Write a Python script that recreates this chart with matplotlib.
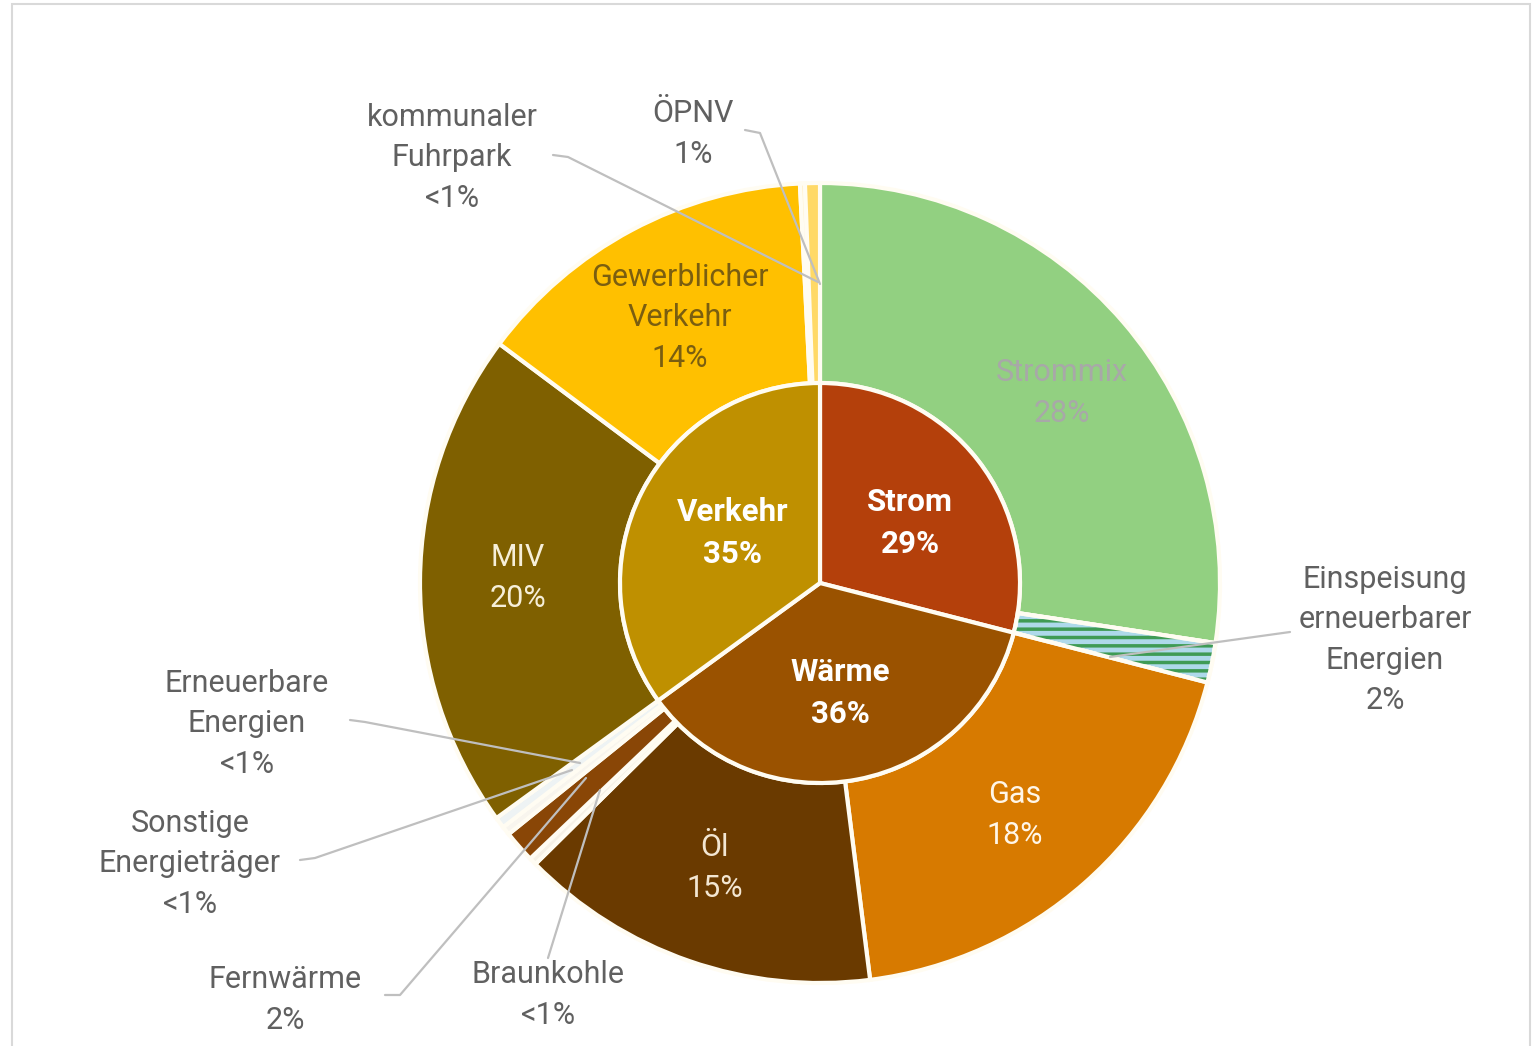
import matplotlib.pyplot as plt
from matplotlib.patches import Rectangle, Wedge

W, H = 1535, 1046

inner_labels = ["Strom", "Wärme", "Verkehr"]
inner_values = [29, 36, 35]
inner_text = ["29%", "36%", "35%"]
inner_colors = ["#B4400B", "#9A5200", "#BF9000"]

outer_labels = ["Strommix", "Einspeisung erneuerbarer Energien",
                "Gas", "Öl", "Braunkohle", "Fernwärme",
                "Sonstige Energieträger", "Erneuerbare Energien",
                "MIV", "Gewerblicher Verkehr", "kommunaler Fuhrpark", "ÖPNV"]
outer_values = [27.4, 1.6,
                19.0, 14.6, 0.3, 1.3, 0.35, 0.45,
                20.2, 14.0, 0.2, 0.6]
outer_text = ["28%", "2%", "18%", "15%", "<1%", "2%", "<1%", "<1%",
              "20%", "14%", "<1%", "1%"]
outer_colors = ["#92D081", "#AED9EA",
                "#D77A00", "#6A3A00", "#F6F1E6", "#894606", "#F8F5EE", "#EEF3F4",
                "#7F6000", "#FFC000", "#FFF1CC", "#FFD966"]

EDGE = "#FFFCF2"
CX, CY, R = 820, 583, 400


def py(y):
    return H - y


plt.rcParams['font.family'] = ['Roboto', 'DejaVu Sans']
fig = plt.figure(figsize=(W / 100, H / 100), dpi=100)
ax = fig.add_axes([0, 0, 1, 1])
ax.set_xlim(0, W)
ax.set_ylim(0, H)
ax.set_aspect('equal')
ax.axis('off')

# thin frame round the picture
fig.patches.append(Rectangle((12 / W, -0.1), (1530 - 12) / W, 1 + 0.1 - 4 / H,
                             transform=fig.transFigure, fill=False,
                             edgecolor="#D9D9D9", linewidth=1.5))

outer_w, _ = ax.pie(outer_values, colors=outer_colors, radius=R, center=(CX, py(CY)),
                    startangle=90, counterclock=False,
                    wedgeprops=dict(width=R / 2, edgecolor=EDGE, linewidth=3))
inner_w, _ = ax.pie(inner_values, colors=inner_colors, radius=R / 2, center=(CX, py(CY)),
                    startangle=90, counterclock=False,
                    wedgeprops=dict(edgecolor=EDGE, linewidth=3))
ax.set_xlim(0, W)
ax.set_ylim(0, H)

# hatched stripes for Einspeisung erneuerbarer Energien
plt.rcParams['hatch.linewidth'] = 2.5
hw = outer_w[1]
stripes = Wedge(hw.center, hw.r, hw.theta1, hw.theta2, width=hw.width,
                facecolor="none", edgecolor="#3F9B55", hatch="--", linewidth=0)
ax.add_patch(stripes)
ax.add_patch(Wedge(hw.center, hw.r, hw.theta1, hw.theta2, width=hw.width,
                   facecolor="none", edgecolor=EDGE, linewidth=3))

# inner labels
inner_pos = [(910, 523), (840, 693), (733, 533)]
for lab, txt, (x, y) in zip(inner_labels, inner_text, inner_pos):
    ax.text(x, py(y), f"{lab}\n{txt}", ha='center', va='center', color='white',
            fontsize=22.5, fontweight='bold', linespacing=1.5)

# labels inside the outer ring
ring_pos = {0: ((1062, 393), "#A8A8A8"), 2: ((1015, 815), "#FFF6E8"),
            3: ((715, 868), "#F3E6D2"), 8: ((518, 578), "#F6EFD9"),
            9: ((680, 318), "#7A5E10")}
for i, ((x, y), col) in ring_pos.items():
    name = outer_labels[i].replace(" ", "\n")
    ax.text(x, py(y), f"{name}\n{outer_text[i]}", ha='center', va='center', color=col,
            fontsize=22, linespacing=1.5)

# outside labels with leader lines
LINE = "#BFBFBF"
outside = {
    10: ((452, 158), "kommunaler\nFuhrpark", [(553, 155), (568, 157), (818, 282)]),
    11: ((693, 134), "ÖPNV", [(745, 130), (760, 133), (820, 284)]),
    1: ((1385, 640), "Einspeisung\nerneuerbarer\nEnergien", [(1290, 632), (1110, 657)]),
    7: ((247, 724), "Erneuerbare\nEnergien", [(350, 720), (365, 722), (580, 763)]),
    6: ((190, 864), "Sonstige\nEnergieträger", [(300, 860), (315, 858), (572, 770)]),
    5: ((285, 1000), "Fernwärme", [(385, 995), (400, 995), (586, 778)]),
    4: ((548, 995), "Braunkohle", [(548, 958), (600, 790)]),
}
for i, ((x, y), name, pts) in outside.items():
    ax.text(x, py(y), f"{name}\n{outer_text[i]}", ha='center', va='center',
            color="#606060", fontsize=22, linespacing=1.5)
    ax.plot([p[0] for p in pts], [py(p[1]) for p in pts], color=LINE, linewidth=1.6,
            solid_capstyle='round')

fig.savefig("out.png", dpi=100, facecolor='white')
